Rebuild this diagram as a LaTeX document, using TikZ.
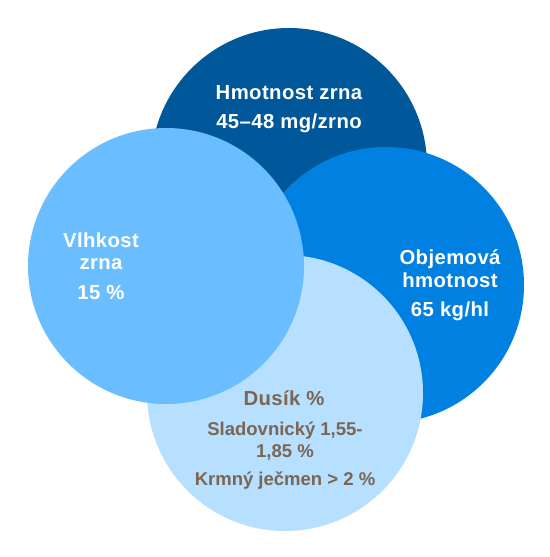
\documentclass[tikz,border=0pt]{standalone}
\usepackage{fontspec}
\setmainfont{Liberation Sans}
\definecolor{cdark}{RGB}{0,88,155}
\definecolor{cmid}{RGB}{0,128,224}
\definecolor{clight}{RGB}{106,190,255}
\definecolor{cpale}{RGB}{183,223,255}
\definecolor{cbrown}{RGB}{122,102,82}
\tikzset{
  disc/.style={circle,minimum size=276pt,inner sep=0pt,draw=none},
  wtxt/.style={anchor=base,inner sep=0pt,text=white,font=\bfseries\fontsize{20.3}{22}\selectfont\addfontfeatures{LetterSpace=2}},
  btxt/.style={anchor=base,inner sep=0pt,text=cbrown,font=\bfseries\fontsize{20.3}{22}\selectfont\addfontfeatures{LetterSpace=2}},
  bsmall/.style={anchor=base,inner sep=0pt,text=cbrown,font=\bfseries\fontsize{18.5}{20}\selectfont},
}
\begin{document}
\begin{tikzpicture}[x=1pt,y=-1pt]
\useasboundingbox (0,0) rectangle (549,557);
\node[disc,fill=cdark] (top) at (289,166) {};
\node[disc,fill=cmid] (right) at (386,285) {};
\node[disc,fill=cpale] (bottom) at (285,393) {};
\node[disc,fill=clight] (left) at (166,266) {};
\node[wtxt] (t1) at (289,99) {Hmotnost zrna};
\node[wtxt] (t2) at (289,128) {45–48 mg/zrno};
\node[wtxt] (l1) at (101,247.5) {Vlhkost};
\node[wtxt] (l2) at (101,269) {zrna};
\node[wtxt] (l3) at (101,299) {15 \%};
\node[wtxt] (r1) at (450,264.5) {Objemová};
\node[wtxt] (r2) at (450,287) {hmotnost};
\node[wtxt] (r3) at (450,316.5) {65 kg/hl};
\node[btxt] (b1) at (284,405.5) {Dusík \%};
\node[bsmall] (b2) at (285,435) {Sladovnický 1,55-};
\node[bsmall] (b3) at (285,457) {1,85 \%};
\node[bsmall] (b4) at (285,485.5) {Krmný ječmen > 2 \%};
\end{tikzpicture}
\end{document}
